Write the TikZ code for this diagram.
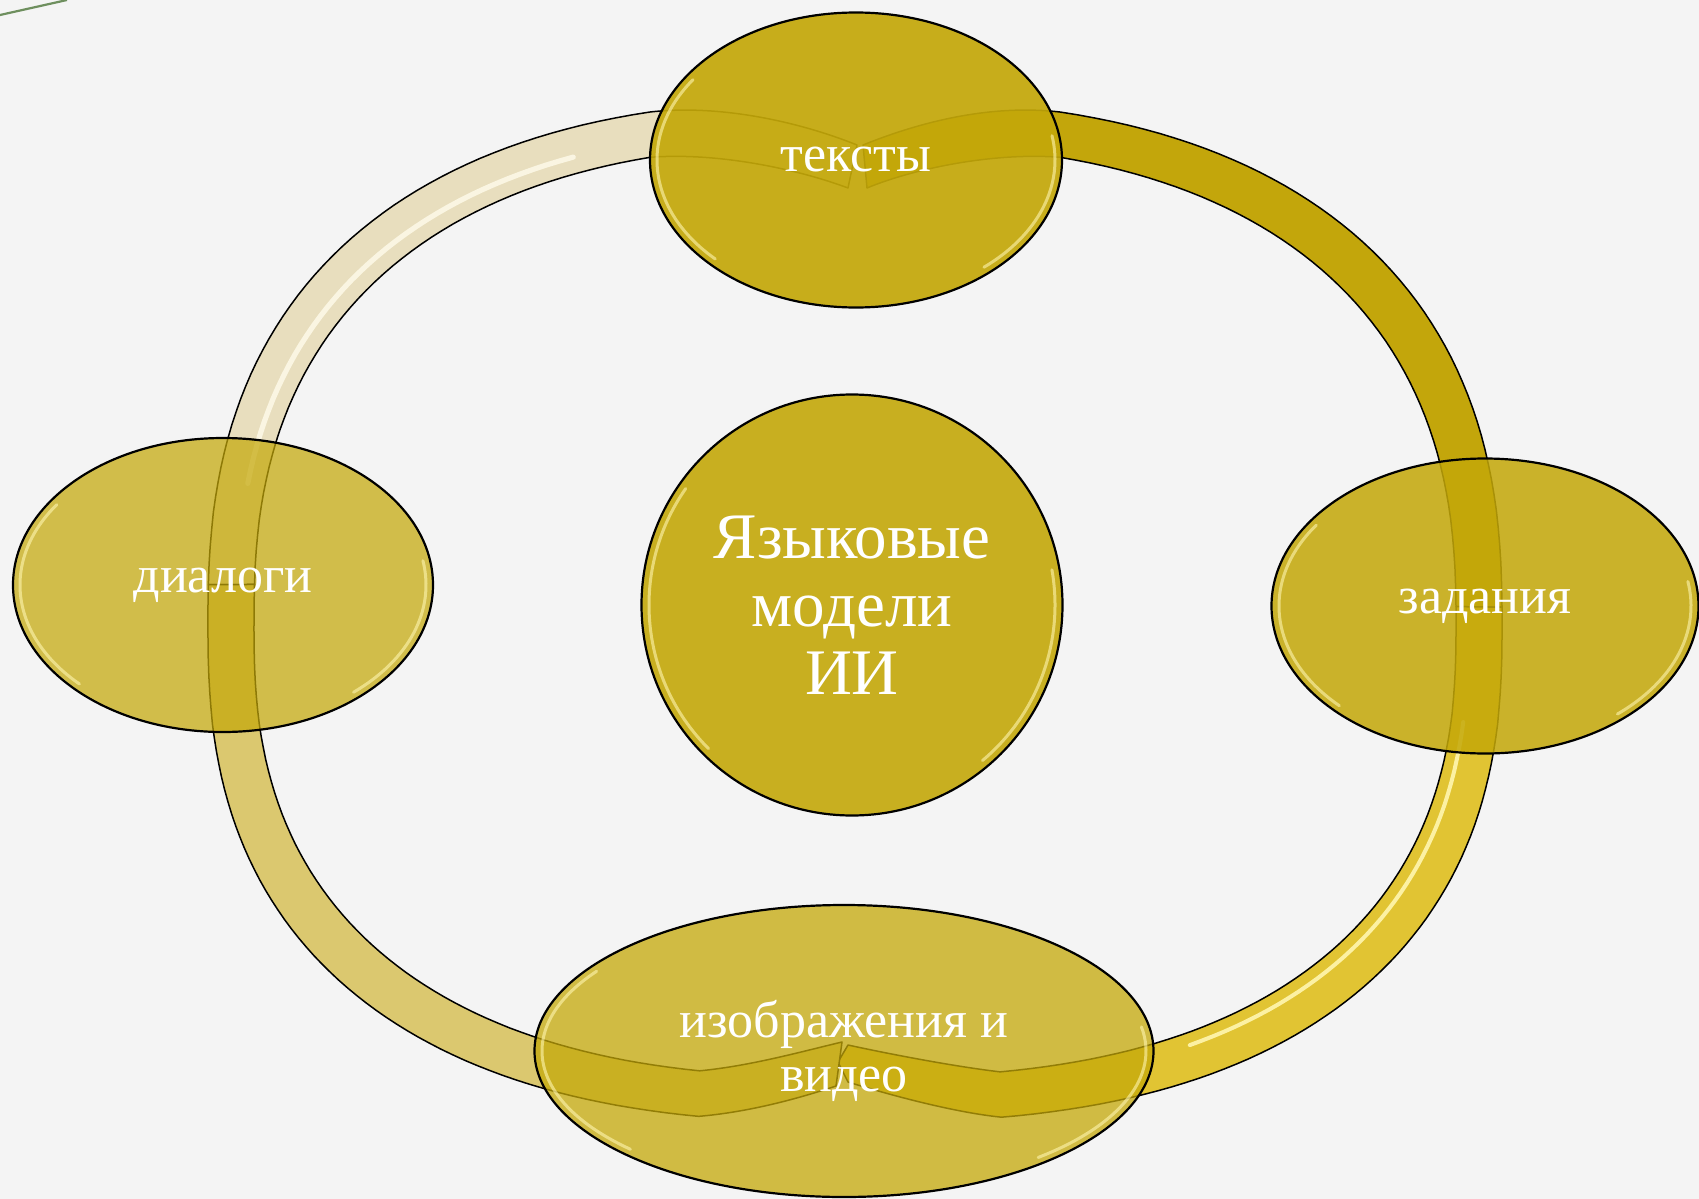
\documentclass[tikz,border=0pt]{standalone}
\usepackage{fontspec}
\setmainfont{Liberation Serif}
\usetikzlibrary{shapes.geometric,calc}
\definecolor{bg}{HTML}{F4F4F4}
\definecolor{gold}{HTML}{C4A809}
\definecolor{bandTL}{HTML}{E8DEBE}
\definecolor{bandTR}{HTML}{C3A60B}
\definecolor{bandBR}{HTML}{E1C433}
\definecolor{bandBL}{HTML}{DBC86F}
\definecolor{hlcol}{HTML}{FFF6B0}
\begin{document}
\begin{tikzpicture}[x=0.5pt,y=-0.5pt,
  declare function={
    cpw(\t)=(cos(\t)<0?-1:1)*(abs(cos(\t))+0.000001)^0.8;
    spw(\t)=(sin(\t)<0?-1:1)*(abs(sin(\t))+0.000001)^0.8;
    px(\t,\a)=855+\a*cpw(\t);
    py(\t,\p,\q)=625-(sin(\t)>0?\p:\q)*spw(\t);
  },
  band/.style={draw=black, line width=0.75pt, line join=round},
  bubble/.style={ellipse, draw=black, line width=1.1pt, fill=gold, text=white,
    inner sep=0pt, align=center, font=\fontsize{26}{27}\selectfont},
  rim/.style={draw=hlcol, line width=1.5pt, draw opacity=0.6, line cap=round},
  stripe/.style={line cap=round, line join=round}]
\fill[bg] (0,0) rectangle (1699,1199);
\useasboundingbox (0,0) rectangle (1699,1199);
\draw[color={rgb,255:red,110;green,143;blue,94}, line width=1.1pt] (0,15) -- (67,0);

% ring: top-left segment
\draw[band, fill=bandTL]
  plot[domain=177.7:103.75, samples=50, variable=\t] ({px(\t,647)},{py(\t,525,497)})
  .. controls (720,104) and (800,122) .. (857,145) -- (848,188)
  .. controls (800,170) and (720,152) .. ({px(105.1,601)},{py(105.1,481,452)})
  -- plot[domain=105.1:177.4, samples=50, variable=\t] ({px(\t,601)},{py(\t,481,452)}) -- cycle;
\draw[stripe, draw={rgb,255:red,252;green,248;blue,230}, line width=2.6pt, draw opacity=0.9]
  plot[domain=112:168, samples=40, variable=\t] ({px(\t,618)},{py(\t,497,470)});
% ring: top-right segment
\draw[band, fill=bandTR]
  (863,145) .. controls (920,122) and (990,104) .. ({px(76.25,647)},{py(76.25,525,497)})
  -- plot[domain=76.25:0.84, samples=50, variable=\t] ({px(\t,647)},{py(\t,525,497)})
  -- plot[domain=0.95:74.9, samples=50, variable=\t] ({px(\t,601)},{py(\t,481,452)})
  .. controls (990,152) and (910,170) .. (867,188) -- cycle;
% ring: bottom-right segment
\draw[band, fill=bandBR]
  plot[domain=0.84:-81.1, samples=60, variable=\t] ({px(\t,647)},{py(\t,525,497)})
  .. controls (950,1112) and (880,1092) .. (848,1082) -- (838,1062) -- (848,1045)
  .. controls (880,1052) and (950,1066) .. ({px(-80.3,601)},{py(-80.3,481,452)})
  -- plot[domain=-80.3:0.95, samples=60, variable=\t] ({px(\t,601)},{py(\t,481,452)}) -- cycle;
\draw[stripe, draw=hlcol, line width=2pt, draw opacity=0.9]
  plot[domain=-8:-62, samples=40, variable=\t] ({px(\t,613)},{py(\t,490,464)});
% ring: bottom-left segment
\draw[band, fill=bandBL]
  plot[domain=177.7:260.3, samples=60, variable=\t] ({px(\t,647)},{py(\t,525,497)})
  .. controls (750,1112) and (800,1098) .. (836,1086) -- (842,1042)
  .. controls (800,1052) and (750,1066) .. ({px(259.4,601)},{py(259.4,481,452)})
  -- plot[domain=259.4:177.4, samples=60, variable=\t] ({px(\t,601)},{py(\t,481,452)}) -- cycle;

% nodes
\node[bubble, fill opacity=0.92, text opacity=1, minimum width=206pt, minimum height=147.5pt] (t) at (856,160) {тексты};
\node[bubble, circle, fill opacity=0.9, text opacity=1, minimum size=210.5pt, font=\fontsize{32.5}{34}\selectfont] (c) at (852,605) {Языковые\\модели\\ИИ};
\node[bubble, fill opacity=0.72, text opacity=1, minimum width=210pt, minimum height=147pt] (d) at (223,585) {диалоги};
\node[bubble, fill opacity=0.86, text opacity=1, minimum width=213.5pt, minimum height=147.5pt] (z) at (1485,606) {задания};
\node[bubble, fill opacity=0.75, text opacity=1, minimum width=309.5pt, minimum height=146pt] (i) at (844,1051) {изображения и\\видео};

% glossy rims
\foreach \n/\ra/\rb in {t/199/140, c/203/203, d/203/140, z/206/141, i/302/139}{
  \draw[rim] ($(\n.center)+(135:{\ra} and {\rb})$) arc[start angle=135, end angle=215, x radius=\ra, y radius=\rb];
  \draw[rim] ($(\n.center)+(-10:{\ra} and {\rb})$) arc[start angle=-10, end angle=50, x radius=\ra, y radius=\rb];
}
\end{tikzpicture}
\end{document}
